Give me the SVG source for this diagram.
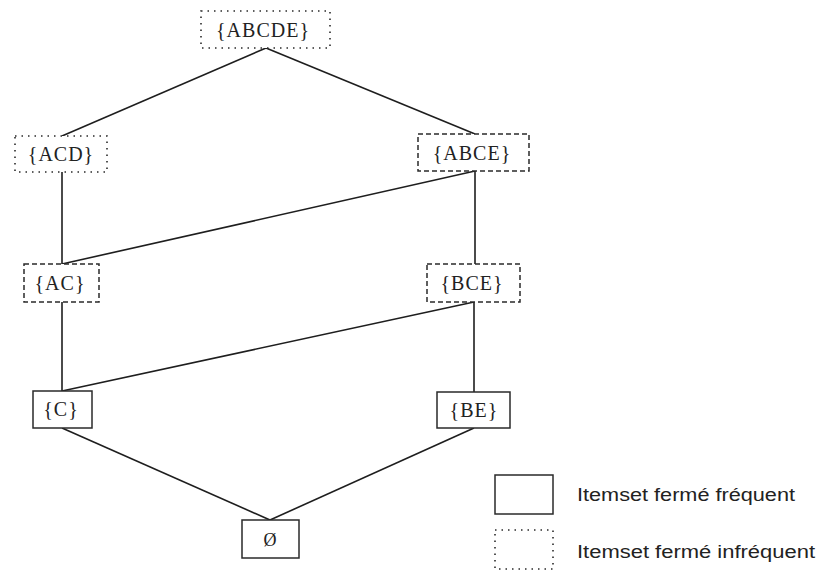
<svg xmlns="http://www.w3.org/2000/svg" width="822" height="574" viewBox="0 0 822 574">
<style>
  .box { fill: #fff; stroke: #2a2a2a; stroke-width: 1.5; }
  .dotted { stroke-dasharray: 1.5 5; stroke-width: 1.6; }
  .dashed { stroke-dasharray: 5 3; }
  .lbl { font-family: "Liberation Serif", "DejaVu Serif", serif; font-size: 20px; fill: #222; text-anchor: middle; letter-spacing: 1px; }
  .leg { font-family: "Liberation Sans", "DejaVu Sans", sans-serif; font-size: 18px; fill: #222; }
  .edge { stroke: #1e1e1e; stroke-width: 1.6; fill: none; }
</style>
<rect width="822" height="574" fill="#fff"/>
<g id="connectors">
  <line class="edge" x1="266" y1="48" x2="62" y2="136"/>
  <line class="edge" x1="266" y1="48" x2="475" y2="134"/>
  <line class="edge" x1="62" y1="172" x2="62" y2="264"/>
  <line class="edge" x1="475" y1="171" x2="62" y2="264"/>
  <line class="edge" x1="475" y1="171" x2="475" y2="264"/>
  <line class="edge" x1="62" y1="302" x2="62" y2="391"/>
  <line class="edge" x1="474" y1="302" x2="62" y2="391"/>
  <line class="edge" x1="474" y1="302" x2="474" y2="392"/>
  <line class="edge" x1="62" y1="428" x2="270" y2="520"/>
  <line class="edge" x1="474" y1="428" x2="270" y2="520"/>
</g>
<g id="n-ABCDE">
  <rect class="box dotted" x="201" y="11" width="129" height="37"/>
  <text class="lbl" x="263" y="37">{ABCDE}</text>
</g>
<g id="n-ACD">
  <rect class="box dotted" x="15" y="136" width="92" height="36"/>
  <text class="lbl" x="61" y="161">{ACD}</text>
</g>
<g id="n-ABCE">
  <rect class="box dashed" x="418" y="134" width="111" height="37"/>
  <text class="lbl" x="472" y="160">{ABCE}</text>
</g>
<g id="n-AC">
  <rect class="box dashed" x="24" y="264" width="75" height="38"/>
  <text class="lbl" x="60" y="290">{AC}</text>
</g>
<g id="n-BCE">
  <rect class="box dashed" x="427" y="264" width="93" height="38"/>
  <text class="lbl" x="472" y="290">{BCE}</text>
</g>
<g id="n-C">
  <rect class="box" x="33" y="391" width="59" height="37"/>
  <text class="lbl" x="61" y="416">{C}</text>
</g>
<g id="n-BE">
  <rect class="box" x="437" y="392" width="73" height="36"/>
  <text class="lbl" x="474" y="417">{BE}</text>
</g>
<g id="n-empty">
  <rect class="box" x="242" y="520" width="57" height="38"/>
  <text class="lbl" x="270" y="546" style="font-size:18px;letter-spacing:0">Ø</text>
</g>
<g id="legend">
  <rect class="box" x="495" y="475" width="58" height="39"/>
  <text class="leg" x="577" y="501" textLength="218" lengthAdjust="spacingAndGlyphs">Itemset fermé fréquent</text>
  <rect class="box dotted" x="495" y="530" width="58" height="39"/>
  <text class="leg" x="577" y="558" textLength="238" lengthAdjust="spacingAndGlyphs">Itemset fermé infréquent</text>
</g>
</svg>
